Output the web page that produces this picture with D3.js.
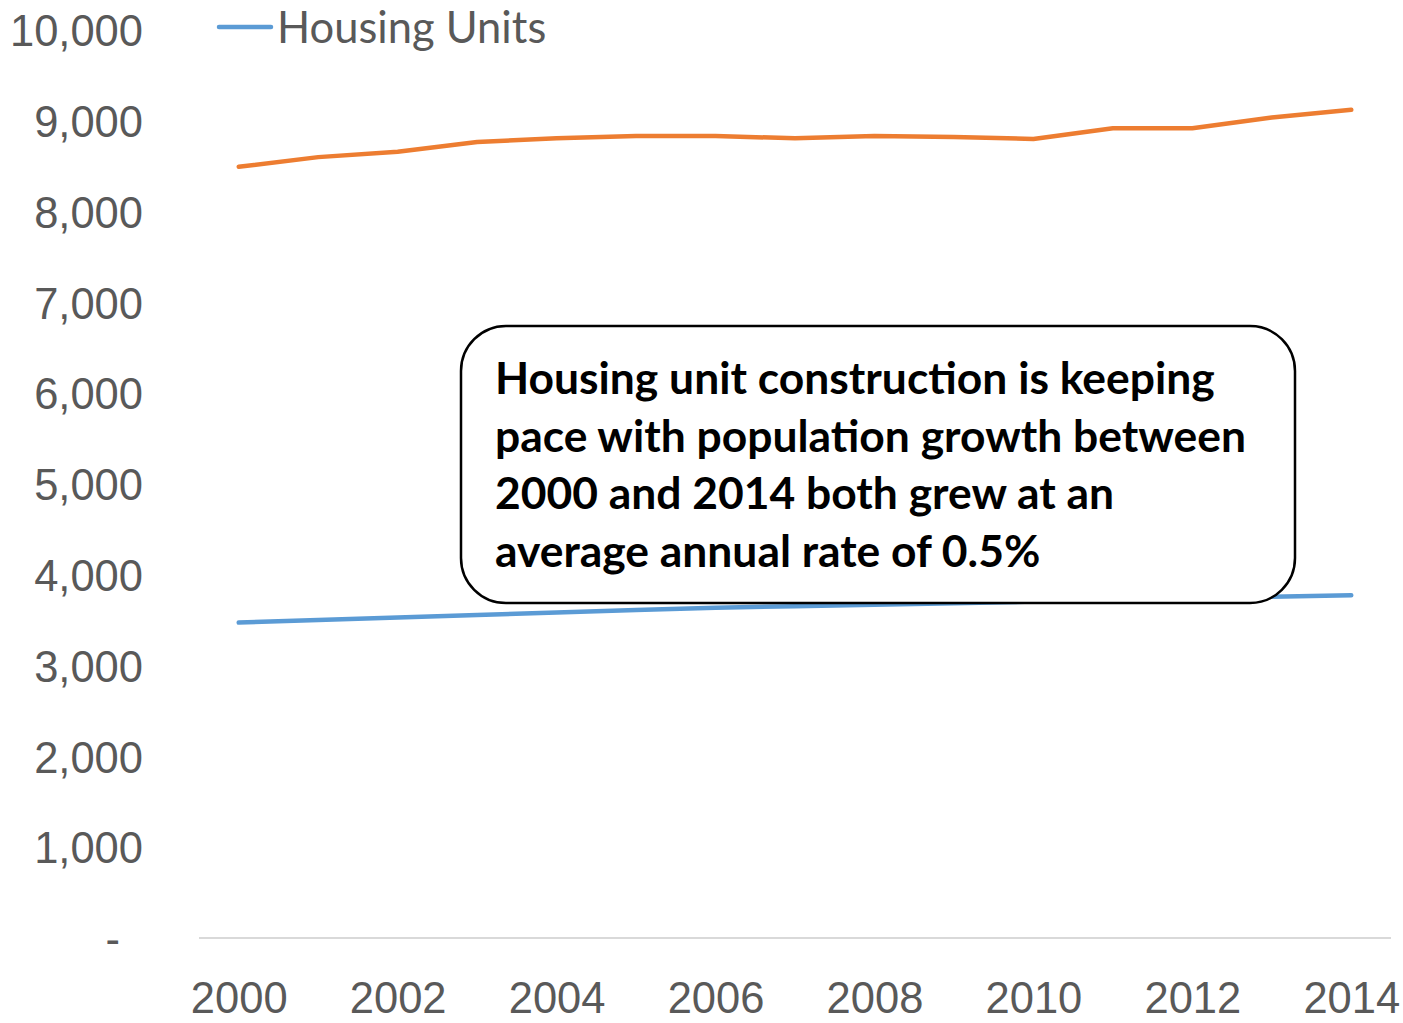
<!DOCTYPE html>
<html>
<head>
<meta charset="utf-8">
<script src="https://cdn.jsdelivr.net/npm/d3@7/dist/d3.min.js"></script>
<style>
  body { margin: 0; background: #fff; }
  svg { display: block; font-family: Lato, "Open Sans", sans-serif; }
  .tick text { fill: #595959; }
</style>
</head>
<body>
<svg id="chart"></svg>
<script>
// data
var years = [2000, 2001, 2002, 2003, 2004, 2005, 2006, 2007, 2008, 2009, 2010, 2011, 2012, 2013, 2014];
var population = [8493, 8600, 8659, 8767, 8807, 8833, 8833, 8807, 8833, 8822, 8800, 8919, 8919, 9037, 9122];
var housingUnits = [3474, 3502, 3530, 3558, 3585, 3612, 3637, 3654, 3671, 3688, 3705, 3722, 3740, 3757, 3774];
var yTicks = [0, 1000, 2000, 3000, 4000, 5000, 6000, 7000, 8000, 9000, 10000];
var xTickYears = [2000, 2002, 2004, 2006, 2008, 2010, 2012, 2014];
var noteLines = [
    "Housing unit construction is keeping",
    "pace with population growth between",
    "2000 and 2014 both grew at an",
    "average annual rate of 0.5%"
];

var width = 1403, height = 1023;
var axisFont = 43.5;
var svg = d3.select("#chart")
    .attr("width", width)
    .attr("height", height);

var x = d3.scalePoint()
    .domain(years)
    .range([199, 1391])
    .padding(0.5);

var y = d3.scaleLinear()
    .domain([0, 10000])
    .range([938, 30]);

// y axis (no line, no ticks)
var yAxis = svg.append("g")
    .attr("transform", "translate(143,0)")
    .call(d3.axisLeft(y)
        .tickValues(yTicks)
        .tickSize(0)
        .tickPadding(0)
        .tickFormat(function(d) { return d == 0 ? "-" : d3.format(",")(d); }));
yAxis.select(".domain").remove();
yAxis.selectAll("text")
    .attr("font-size", axisFont)
    .attr("dy", "0.36em")
    .attr("dx", function(d) { return d == 0 ? -23 : 0; });

// x axis
svg.append("line")
    .attr("x1", x.range()[0]).attr("x2", x.range()[1])
    .attr("y1", y(0)).attr("y2", y(0))
    .attr("stroke", "#d9d9d9")
    .attr("stroke-width", 2);

var xAxis = svg.append("g")
    .attr("transform", "translate(0," + y(0) + ")")
    .call(d3.axisBottom(x)
        .tickValues(xTickYears)
        .tickSize(0)
        .tickPadding(0));
xAxis.select(".domain").remove();
xAxis.selectAll("text")
    .attr("font-size", axisFont)
    .attr("y", 0)
    .attr("dy", "1.73em");

var line = d3.line()
    .x(function(d, i) { return x(years[i]); })
    .y(function(d) { return y(d); });

svg.append("path")
    .datum(housingUnits)
    .attr("fill", "none")
    .attr("stroke", "#5b9bd5")
    .attr("stroke-width", 4.5)
    .attr("stroke-linecap", "round")
    .attr("stroke-linejoin", "round")
    .attr("d", line);

svg.append("path")
    .datum(population)
    .attr("fill", "none")
    .attr("stroke", "#ed7d31")
    .attr("stroke-width", 4.5)
    .attr("stroke-linecap", "round")
    .attr("stroke-linejoin", "round")
    .attr("d", line);

// legend
var legend = svg.append("g");
legend.append("line")
    .attr("x1", 219).attr("x2", 271)
    .attr("y1", 27).attr("y2", 27)
    .attr("stroke", "#5b9bd5")
    .attr("stroke-width", 4.5)
    .attr("stroke-linecap", "round");
legend.append("text")
    .attr("x", 277)
    .attr("y", 27)
    .attr("dy", "0.36em")
    .attr("font-size", axisFont)
    .attr("fill", "#595959")
    .text("Housing Units");

// annotation box
var note = svg.append("g");
note.append("rect")
    .attr("x", 461).attr("y", 326)
    .attr("width", 834).attr("height", 277)
    .attr("rx", 45).attr("ry", 45)
    .attr("fill", "#fff")
    .attr("stroke", "#000")
    .attr("stroke-width", 2.5);
note.selectAll("text.note")
    .data(noteLines)
    .enter()
    .append("text")
    .attr("class", "note")
    .attr("x", 495)
    .attr("y", function(d, i) { return 394 + i * 57.7; })
    .attr("font-size", 44.4)
    .attr("font-weight", "bold")
    .attr("fill", "#000")
    .text(function(d) { return d; });
</script>
</body>
</html>
